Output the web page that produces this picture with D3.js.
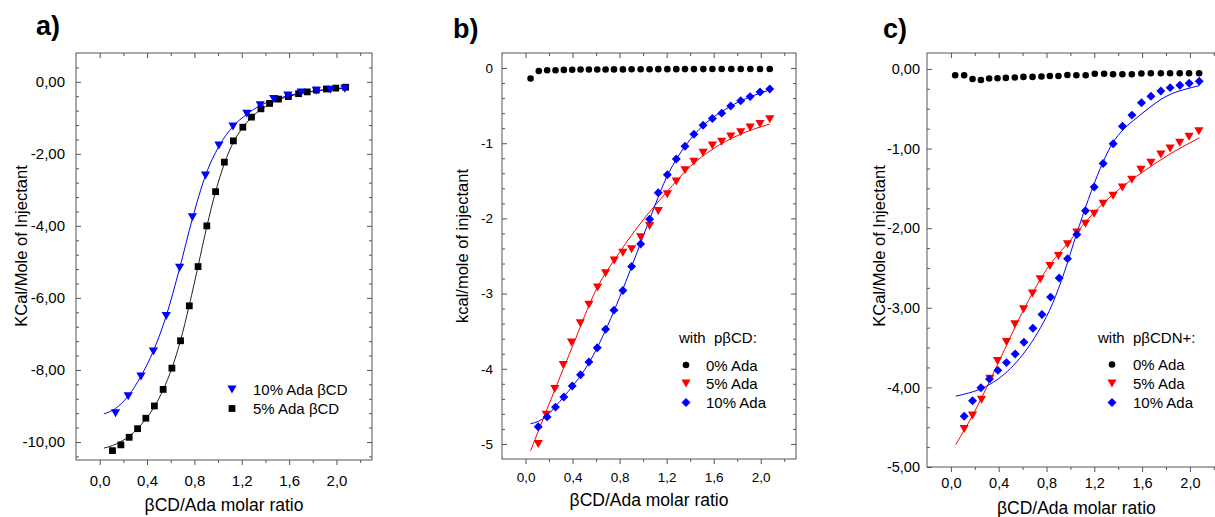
<!DOCTYPE html>
<html><head><meta charset="utf-8">
<script src="https://cdn.jsdelivr.net/npm/d3@7"></script>
<style>
body{margin:0;background:#fff;}
svg text{font-family:"Liberation Sans",Arial,sans-serif;}
</style>
</head><body>
<svg id="chart" width="1215" height="517"></svg>
<script>
// ---------------- DATA ----------------
// Panel a)
const aSqX  = [0.108,0.179,0.249,0.32,0.39,0.462,0.536,0.61,0.683,0.757,0.831,0.905,0.979,1.053,1.129,1.209,1.282,1.362,1.435,1.51,1.594,1.68,1.753,1.83,1.915,1.994,2.077];
const aSqY  = [-10.24,-10.08,-9.87,-9.63,-9.34,-9.0,-8.54,-7.95,-7.19,-6.22,-5.13,-4.0,-3.05,-2.23,-1.64,-1.26,-0.98,-0.75,-0.60,-0.48,-0.41,-0.33,-0.28,-0.23,-0.20,-0.175,-0.15];
const aTriX = [0.134,0.241,0.349,0.454,0.562,0.675,0.783,0.894,1.007,1.126,1.243,1.356,1.47,1.589,1.702,1.83,1.949,2.07];
const aTriY = [-9.20,-8.73,-8.18,-7.49,-6.50,-5.16,-3.76,-2.60,-1.77,-1.24,-0.89,-0.65,-0.48,-0.38,-0.30,-0.25,-0.22,-0.19];
const aFitBlackX = [0.035,0.108,0.179,0.249,0.32,0.39,0.462,0.536,0.61,0.683,0.757,0.831,0.905,0.979,1.053,1.129,1.209,1.282,1.362,1.435,1.51,1.594,1.68,1.753,1.83,1.915,1.994,2.077];
const aFitBlackY = [-10.17,-10.1,-9.99,-9.84,-9.63,-9.36,-9.02,-8.55,-7.95,-7.18,-6.2,-5.12,-4.02,-3.05,-2.27,-1.68,-1.27,-0.99,-0.77,-0.62,-0.5,-0.41,-0.34,-0.29,-0.25,-0.21,-0.185,-0.16];
const aFitBlueX = [0.035,0.134,0.241,0.349,0.454,0.562,0.675,0.783,0.894,1.007,1.126,1.243,1.356,1.47,1.589,1.702,1.83,1.949,2.07];
const aFitBlueY = [-9.22,-9.07,-8.72,-8.17,-7.47,-6.5,-5.18,-3.8,-2.6,-1.79,-1.24,-0.9,-0.66,-0.5,-0.39,-0.31,-0.25,-0.21,-0.18];
const aYTicks = [0,-2,-4,-6,-8,-10];
const aLegend = ["10% Ada βCD","5% Ada βCD"];

// Panel b)
const bCircX = [0.043,0.113,0.184,0.255,0.326,0.397,0.468,0.539,0.610,0.681,0.752,0.828,0.902,0.979,1.055,1.129,1.206,1.282,1.356,1.432,1.512,1.589,1.668,1.75,1.83,1.912,1.994,2.077];
const bCircY = [-0.14,-0.04,-0.03,-0.03,-0.025,-0.022,-0.02,-0.02,-0.02,-0.02,-0.018,-0.018,-0.016,-0.016,-0.016,-0.015,-0.015,-0.015,-0.014,-0.014,-0.014,-0.013,-0.013,-0.013,-0.013,-0.013,-0.013,-0.013];
const bDiaX = [0.108,0.184,0.255,0.326,0.397,0.468,0.539,0.61,0.681,0.752,0.828,0.902,0.979,1.055,1.129,1.206,1.282,1.356,1.432,1.51,1.589,1.668,1.745,1.83,1.91,1.994,2.077];
const bDiaY = [-4.77,-4.64,-4.51,-4.375,-4.23,-4.08,-3.91,-3.72,-3.475,-3.22,-2.96,-2.64,-2.34,-2.01,-1.66,-1.42,-1.21,-1.04,-0.88,-0.76,-0.67,-0.60,-0.505,-0.435,-0.38,-0.32,-0.28];
const bTriX = [0.108,0.176,0.249,0.321,0.391,0.466,0.539,0.613,0.681,0.755,0.828,0.902,0.979,1.055,1.129,1.206,1.282,1.356,1.432,1.51,1.589,1.668,1.745,1.83,1.91,1.994,2.077];
const bTriY = [-5.0,-4.61,-4.27,-3.95,-3.65,-3.395,-3.15,-2.92,-2.73,-2.56,-2.456,-2.41,-2.25,-2.10,-1.90,-1.68,-1.51,-1.36,-1.245,-1.126,-1.03,-0.98,-0.91,-0.855,-0.79,-0.745,-0.68];
const bFitRedX = [0.043,0.2,0.4,0.6,0.8,1.0,1.2,1.4,1.6,1.8,2.077];
const bFitRedY = [-5.09,-4.47,-3.7,-2.95,-2.45,-2.02,-1.65,-1.31,-1.07,-0.9,-0.745];
const bFitBlueX = [0.043,0.108,0.184,0.255,0.326,0.4,0.5,0.6,0.7,0.8,0.9,1.0,1.1,1.2,1.3,1.4,1.5,1.6,1.7,1.8,1.9,2.077];
const bFitBlueY = [-4.73,-4.7,-4.62,-4.5,-4.37,-4.23,-4.02,-3.75,-3.42,-3.05,-2.65,-2.24,-1.83,-1.45,-1.17,-0.95,-0.78,-0.65,-0.55,-0.46,-0.39,-0.29];
const bYTicks = [0,-1,-2,-3,-4,-5];
const bLegend = ["with  pβCD:","0% Ada","5% Ada","10% Ada"];

// Panel c)
const cCircX = [0.036,0.111,0.181,0.251,0.32,0.39,0.46,0.535,0.607,0.683,0.758,0.828,0.9,0.975,1.05,1.128,1.204,1.282,1.357,1.435,1.514,1.594,1.673,1.757,1.834,1.915,1.993,2.077];
const cCircY = [-0.08,-0.08,-0.126,-0.139,-0.121,-0.117,-0.113,-0.108,-0.1,-0.1,-0.095,-0.088,-0.088,-0.076,-0.08,-0.08,-0.06,-0.06,-0.067,-0.067,-0.067,-0.058,-0.054,-0.054,-0.054,-0.054,-0.054,-0.054];
const cDiaX = [0.111,0.181,0.251,0.323,0.393,0.465,0.538,0.611,0.686,0.762,0.834,0.906,0.976,1.054,1.126,1.199,1.274,1.358,1.436,1.515,1.595,1.674,1.757,1.835,1.916,1.994,2.078];
const cDiaY = [-4.363,-4.169,-4.005,-3.896,-3.786,-3.689,-3.58,-3.433,-3.257,-3.084,-2.866,-2.627,-2.383,-2.08,-1.782,-1.483,-1.189,-0.941,-0.719,-0.58,-0.424,-0.344,-0.277,-0.235,-0.206,-0.18,-0.155];
const cTriX = [0.111,0.181,0.256,0.326,0.39,0.465,0.535,0.608,0.683,0.748,0.829,0.9,0.976,1.054,1.126,1.199,1.274,1.357,1.435,1.514,1.59,1.674,1.757,1.834,1.915,1.993,2.075];
const cTriY = [-4.522,-4.354,-4.156,-3.89,-3.67,-3.43,-3.207,-3.018,-2.82,-2.643,-2.475,-2.349,-2.202,-2.055,-1.946,-1.82,-1.694,-1.593,-1.488,-1.391,-1.265,-1.18,-1.076,-1.0,-0.928,-0.852,-0.782];
const cFitRedX = [0.04,0.2,0.4,0.6,0.8,1.0,1.2,1.4,1.6,1.8,2.08];
const cFitRedY = [-4.72,-4.3,-3.68,-3.05,-2.52,-2.15,-1.8,-1.52,-1.3,-1.1,-0.865];
const cFitBlueX = [0.04,0.15,0.25,0.35,0.45,0.55,0.65,0.75,0.85,0.95,1.05,1.15,1.25,1.35,1.45,1.55,1.65,1.75,1.85,1.95,2.08];
const cFitBlueY = [-4.11,-4.07,-4.02,-3.94,-3.83,-3.68,-3.49,-3.25,-2.95,-2.55,-2.08,-1.64,-1.25,-0.94,-0.75,-0.62,-0.5,-0.39,-0.31,-0.26,-0.21];
const cYTicks = [0,-1,-2,-3,-4,-5];
const cLegend = ["with  pβCDN+:","0% Ada","5% Ada","10% Ada"];

const xTicks = [0,0.4,0.8,1.2,1.6,2.0];
const xMinorTicks = [0.2,0.6,1.0,1.4,1.8,2.2];
const xTitle = "βCD/Ada molar ratio";

// ---------------- DRAWING ----------------
const svg = d3.select("#chart");
const FRAME = "#555";
const BLUE = "#0000ff", RED = "#ff0000", BLACK = "#000";
const loc = d3.formatLocale({decimal:",", thousands:".", grouping:[3], currency:["",""], minus:"-"});
const f2 = loc.format(".2f"), f1 = loc.format(".1f"), f0 = loc.format("d");

function zip(xs, ys){ return xs.map((v,i)=>[v, ys[i]]); }

function marker(g, type, cx, cy, color){
  if(type==="circle"){
    g.append("circle").attr("cx",cx).attr("cy",cy).attr("r",3.3).attr("fill",color);
  } else if(type==="square"){
    g.append("path").attr("d", d3.symbol(d3.symbolSquare, 46)()).attr("transform",`translate(${cx},${cy})`).attr("fill",color);
  } else if(type==="diamond"){
    g.append("path").attr("d", d3.symbol(d3.symbolSquare, 40)()).attr("transform",`translate(${cx},${cy}) rotate(45)`).attr("fill",color);
  } else if(type==="tri"){
    g.append("path").attr("d","M-4.6,-4L4.6,-4L0,4Z").attr("transform",`translate(${cx},${cy})`).attr("fill",color);
  }
}

function panel(p){
  const g = svg.append("g");
  const x = d3.scaleLinear().domain([-0.2,2.3]).range([p.left, p.right]);
  const y = d3.scaleLinear().domain(p.yDom).range([p.bottom, p.top]);

  const styleAxis = s => {
    s.select(".domain").remove();
    s.selectAll("line").attr("stroke",FRAME);
    s.selectAll("text").attr("fill","#000").attr("font-size",p.tickFs).attr("font-family","Liberation Sans, Arial, sans-serif");
  };
  const yMinor = d3.range(p.yDom[0], p.yDom[1]+1e-9, p.yMinorStep)
      .map(v=>Math.round(v/p.yMinorStep)*p.yMinorStep)
      .filter(v=>!p.yTicks.some(t=>Math.abs(t-v)<1e-6) && v>p.yDom[0]+1e-6 && v<p.yDom[1]-1e-6);

  // bottom
  g.append("g").attr("transform",`translate(0,${p.bottom})`)
    .call(d3.axisBottom(x).tickValues(xTicks).tickSize(5).tickPadding(p.xPad).tickFormat(f1)).call(styleAxis);
  g.append("g").attr("transform",`translate(0,${p.bottom})`)
    .call(d3.axisBottom(x).tickValues(xMinorTicks).tickSize(3).tickFormat("")).call(styleAxis);
  // top (inward)
  g.append("g").attr("transform",`translate(0,${p.top})`)
    .call(d3.axisTop(x).tickValues(xTicks).tickSize(-5).tickFormat("")).call(styleAxis);
  g.append("g").attr("transform",`translate(0,${p.top})`)
    .call(d3.axisTop(x).tickValues(xMinorTicks).tickSize(-3).tickFormat("")).call(styleAxis);
  // left (inward)
  g.append("g").attr("transform",`translate(${p.left},0)`)
    .call(d3.axisLeft(y).tickValues(p.yTicks).tickSize(-5).tickPadding(p.yPad).tickFormat(p.yFmt)).call(styleAxis);
  g.append("g").attr("transform",`translate(${p.left},0)`)
    .call(d3.axisLeft(y).tickValues(yMinor).tickSize(-3).tickFormat("")).call(styleAxis);
  // right (inward)
  g.append("g").attr("transform",`translate(${p.right},0)`)
    .call(d3.axisRight(y).tickValues(p.yTicks).tickSize(-5).tickFormat("")).call(styleAxis);
  g.append("g").attr("transform",`translate(${p.right},0)`)
    .call(d3.axisRight(y).tickValues(yMinor).tickSize(-3).tickFormat("")).call(styleAxis);

  // frame
  g.append("rect").attr("x",p.left).attr("y",p.top).attr("width",p.right-p.left).attr("height",p.bottom-p.top)
    .attr("fill","none").attr("stroke",FRAME).attr("stroke-width",1);

  // fit lines
  const line = d3.line().x(d=>x(d[0])).y(d=>y(d[1])).curve(d3.curveMonotoneX);
  p.fits.forEach(f=>{
    g.append("path").attr("d", line(zip(f.x,f.y))).attr("fill","none").attr("stroke",f.color).attr("stroke-width",1);
  });
  // points
  p.series.forEach(s=>{
    zip(s.x,s.y).forEach(d=>marker(g, s.type, x(d[0]), y(d[1]), s.color));
  });

  // titles
  g.append("text").attr("x",p.labelX).attr("y",p.labelY).attr("font-size",27).attr("font-weight","bold").text(p.label);
  g.append("text").attr("x",(p.left+p.right)/2).attr("y",p.xTitleY).attr("text-anchor","middle").attr("font-size",17.5).text(xTitle);
  g.append("text").attr("transform",`translate(${p.yTitleX},246) rotate(-90)`).attr("text-anchor","middle")
    .attr("dy","0.35em").attr("font-size",16.5).text(p.yTitle);

  // legend
  p.legend(g);
}

// Panel a
panel({
  left:76, right:372, top:53, bottom:460, yDom:[-10.5,0.8], yTicks:aYTicks, yMinorStep:0.4, yFmt:f2,
  tickFs:15, xPad:10, yPad:11, label:"a)", labelX:36, labelY:34.5, xTitleY:511, yTitleX:21,
  yTitle:"KCal/Mole of Injectant",
  fits:[{x:aFitBlackX,y:aFitBlackY,color:"#222"},{x:aFitBlueX,y:aFitBlueY,color:BLUE}],
  series:[{x:aSqX,y:aSqY,type:"square",color:BLACK},{x:aTriX,y:aTriY,type:"tri",color:BLUE}],
  legend:g=>{
    marker(g,"tri",232,389.5,BLUE);
    g.append("text").attr("x",253).attr("y",395).attr("font-size",15).text(aLegend[0]);
    marker(g,"square",232,408.5,BLACK);
    g.append("text").attr("x",253).attr("y",414).attr("font-size",15).text(aLegend[1]);
  }
});

// Panel b
panel({
  left:502, right:796, top:53, bottom:459, yDom:[-5.2,0.2], yTicks:bYTicks, yMinorStep:0.2, yFmt:f0,
  tickFs:13.5, xPad:8, yPad:9, label:"b)", labelX:453, labelY:37.5, xTitleY:506, yTitleX:462,
  yTitle:"kcal/mole of injectant",
  fits:[{x:bFitRedX,y:bFitRedY,color:RED},{x:bFitBlueX,y:bFitBlueY,color:BLUE}],
  series:[{x:bCircX,y:bCircY,type:"circle",color:BLACK},{x:bTriX,y:bTriY,type:"tri",color:RED},{x:bDiaX,y:bDiaY,type:"diamond",color:BLUE}],
  legend:g=>{
    g.append("text").attr("x",679).attr("y",343).attr("font-size",15).attr("xml:space","preserve").style("white-space","pre").text(bLegend[0]);
    marker(g,"circle",686,365,BLACK);
    g.append("text").attr("x",706).attr("y",370.5).attr("font-size",15).text(bLegend[1]);
    marker(g,"tri",686,383.5,RED);
    g.append("text").attr("x",706).attr("y",389).attr("font-size",15).text(bLegend[2]);
    marker(g,"diamond",686,402.5,BLUE);
    g.append("text").attr("x",706).attr("y",408).attr("font-size",15).text(bLegend[3]);
  }
});

// Panel c
panel({
  left:927, right:1225.75, top:53, bottom:467, yDom:[-5,0.2], yTicks:cYTicks, yMinorStep:0.25, yFmt:f2,
  tickFs:14.5, xPad:6, yPad:7, label:"c)", labelX:883, labelY:38, xTitleY:514, yTitleX:879,
  yTitle:"KCal/Mole of Injectant",
  fits:[{x:cFitRedX,y:cFitRedY,color:RED},{x:cFitBlueX,y:cFitBlueY,color:BLUE}],
  series:[{x:cCircX,y:cCircY,type:"circle",color:BLACK},{x:cTriX,y:cTriY,type:"tri",color:RED},{x:cDiaX,y:cDiaY,type:"diamond",color:BLUE}],
  legend:g=>{
    g.append("text").attr("x",1098).attr("y",343).attr("font-size",15).attr("xml:space","preserve").style("white-space","pre").text(cLegend[0]);
    marker(g,"circle",1112,364.5,BLACK);
    g.append("text").attr("x",1133).attr("y",370).attr("font-size",15).text(cLegend[1]);
    marker(g,"tri",1112,383.5,RED);
    g.append("text").attr("x",1133).attr("y",389).attr("font-size",15).text(cLegend[2]);
    marker(g,"diamond",1112,402.5,BLUE);
    g.append("text").attr("x",1133).attr("y",408).attr("font-size",15).text(cLegend[3]);
  }
});
</script>
</body></html>
